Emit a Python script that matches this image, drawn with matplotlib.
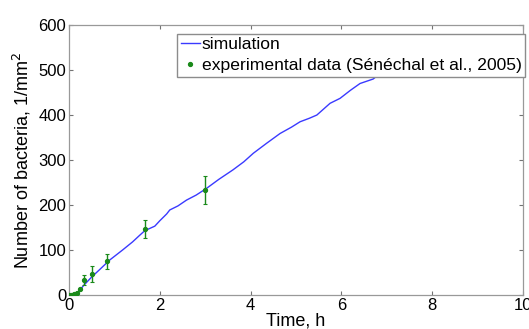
import matplotlib
matplotlib.use("Agg")
import matplotlib.pyplot as plt
from matplotlib.lines import Line2D

plt.rcParams['font.family'] = ['Liberation Sans', 'DejaVu Sans']

# simulation curve
sim_t = [0.0, 0.05, 0.1, 0.2, 0.33, 0.5, 0.67, 0.9, 1.18, 1.4, 1.56, 1.67, 1.78, 1.89,
         2.0, 2.15, 2.22, 2.4, 2.59, 2.8, 3.03, 3.3, 3.61, 3.85, 4.06, 4.35, 4.65, 4.9,
         5.09, 5.3, 5.46, 5.75, 5.97, 6.2, 6.41, 6.7, 7.0, 7.3]
sim_n = [0, 1, 2, 6, 22, 40, 56, 78, 100, 118, 133, 143, 148, 153,
         165, 180, 189, 198, 211, 222, 237, 257, 278, 296, 315, 337, 359, 373,
         385, 393, 400, 426, 437, 455, 470, 480, 505, 530]

# experimental data (Sénéchal et al., 2005)
exp_t = [0.0, 0.05, 0.11, 0.17, 0.24, 0.33, 0.5, 0.84, 1.67, 3.0]
exp_n = [0, 0, 1.5, 5, 13, 33, 47, 75, 146, 234]
exp_err = [0, 0, 0, 0, 0, 11, 17, 17, 20, 31]

blue = '#3a3aff'
green = '#1a8a1a'

fig = plt.figure(figsize=(5.29, 3.29), dpi=100)
ax = fig.add_axes([0.1304, 0.1033, 0.8583, 0.8207])

ax.plot(sim_t, sim_n, color=blue, lw=1.0, zorder=2)
ax.errorbar(exp_t, exp_n, yerr=exp_err, fmt='o', color=green, ms=2.8,
            elinewidth=1.0, capsize=1.5, capthick=0.8, zorder=3)

ax.set_xlim(0, 10)
ax.set_ylim(0, 600)
ax.set_xticks([0, 2, 4, 6, 8, 10])
ax.set_yticks([0, 100, 200, 300, 400, 500, 600])
ax.tick_params(direction='in', top=True, right=True, length=3, width=0.8,
               color='0.45', labelsize=12, pad=2)
for s in ax.spines.values():
    s.set_color('0.6')
    s.set_linewidth(0.9)

ax.set_xlabel('Time, h', fontsize=13, labelpad=0)
ax.set_ylabel('Number of bacteria, 1/mm$^2$', fontsize=13, labelpad=4)

handles = [Line2D([], [], color=blue, lw=1.0),
           Line2D([], [], color=green, marker='o', ms=2.8, ls='none')]
labels = ['simulation', 'experimental data (Sénéchal et al., 2005)']
leg = ax.legend(handles, labels, loc='upper left', bbox_to_anchor=(0.238, 0.968),
                fontsize=12.6, frameon=True, fancybox=False, edgecolor='0.55',
                framealpha=1, handlelength=1.1, handletextpad=0.1, borderpad=0.2,
                labelspacing=0.32, borderaxespad=0, numpoints=1)
leg.get_frame().set_linewidth(1.0)

fig.savefig('out.png', dpi=100)
